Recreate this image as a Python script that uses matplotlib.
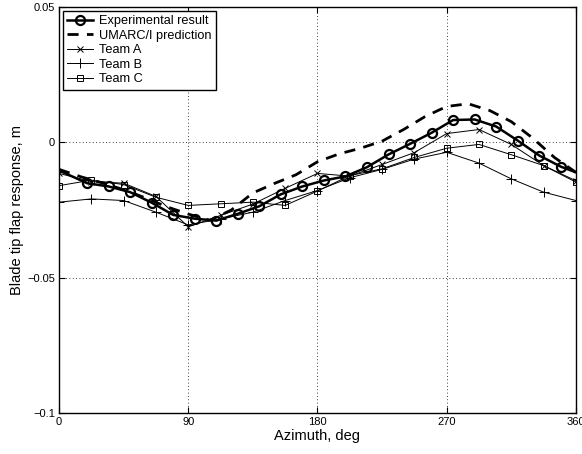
import numpy as np
import matplotlib
matplotlib.use('Agg')
import matplotlib.pyplot as plt

plt.rcParams['font.family'] = ['Liberation Sans', 'DejaVu Sans']

##========================================
# Data
##========================================
exp_azimuth = [0, 19.5, 34.5, 49.5, 64.5, 79.5, 94.5, 109.5, 124.5, 139.5, 154.5,
               169.5, 184.5, 199.5, 214.5, 229.5, 244.5, 259.5, 274.5, 289.5,
               304.5, 319.5, 334.5, 349.5, 360]
exp_flap = [-0.0104, -0.0151, -0.0163, -0.0184, -0.0223, -0.0268, -0.0282, -0.0289,
            -0.0264, -0.0236, -0.0192, -0.0163, -0.0141, -0.0126, -0.0092, -0.0045,
            -0.0006, 0.0035, 0.0082, 0.0084, 0.0058, 0.0006, -0.0049, -0.0090, -0.0111]

umarc_azimuth = [0, 15, 30, 45, 60, 75, 90, 105, 120, 135, 150, 165, 180, 195, 210,
                 225, 240, 255, 270, 285, 300, 315, 330, 345, 360]
umarc_flap = [-0.0100, -0.0127, -0.0150, -0.0175, -0.0205, -0.0238, -0.0265, -0.0288,
              -0.0250, -0.0187, -0.0152, -0.0120, -0.0072, -0.0043, -0.0022, 0.0004,
              0.0047, 0.0095, 0.0132, 0.0142, 0.0117, 0.0076, 0.0015, -0.0056, -0.0111]

team_azimuth = [0, 22.5, 45, 67.5, 90, 112.5, 135, 157.5, 180, 202.5, 225, 247.5,
                270, 292.5, 315, 337.5, 360]
team_a = [-0.0115, -0.0145, -0.0151, -0.0200, -0.0312, -0.0270, -0.0228, -0.0170,
          -0.0115, -0.0125, -0.0082, -0.0038, 0.0032, 0.0047, -0.0008, -0.0086, -0.0142]
team_b = [-0.0221, -0.0209, -0.0215, -0.0258, -0.0305, -0.0283, -0.0258, -0.0215,
          -0.0178, -0.0131, -0.0100, -0.0062, -0.0037, -0.0077, -0.0135, -0.0184, -0.0215]
team_c = [-0.0160, -0.0140, -0.0156, -0.0203, -0.0233, -0.0227, -0.0221, -0.0233,
          -0.0180, -0.0123, -0.0098, -0.0056, -0.0022, -0.0008, -0.0046, -0.0086, -0.0147]

xticks = [0, 90, 180, 270, 360]
yticks = [-0.1, -0.05, 0, 0.05]

##========================================
# Plot
##========================================
fig = plt.figure(figsize=(5.82, 4.54), dpi=100)
ax = fig.add_axes([0.1015, 0.0896, 0.888, 0.8956])

ax.plot(exp_azimuth, exp_flap, '-o', color='k', lw=1.8, ms=6.5, mew=1.6,
        fillstyle='none', markevery=list(range(1, len(exp_azimuth) - 1)),
        label='Experimental result', zorder=5)
ax.plot(umarc_azimuth, umarc_flap, '--', color='k', lw=2.0, dashes=(4, 3),
        label='UMARC/I prediction', zorder=4)
ax.plot(team_azimuth, team_a, '-x', color='k', lw=0.7, ms=4.5, mew=0.7,
        label='Team A')
ax.plot(team_azimuth, team_b, '-+', color='k', lw=0.7, ms=7, mew=0.7,
        label='Team B')
ax.plot(team_azimuth, team_c, '-s', color='k', lw=0.7, ms=4.5, mew=0.7,
        fillstyle='none', label='Team C')

ax.set_xlim(0, 360)
ax.set_ylim(-0.1, 0.05)
ax.set_xticks(xticks)
ax.set_yticks(yticks)
ax.set_yticklabels(['\u22120.1', '\u22120.05', '0', '0.05'])
ax.tick_params(direction='in', top=True, right=True, labelsize=8, length=4, pad=3)
ax.grid(True, linestyle=(0, (1, 3)), color='k', lw=0.6)
for s in ax.spines.values():
    s.set_linewidth(1.0)

ax.set_xlabel('Azimuth, deg', fontsize=10.5, labelpad=1)
ax.set_ylabel('Blade tip flap response, m', fontsize=10.5, labelpad=2)

leg = ax.legend(loc='upper left', fontsize=9.2, handlelength=2.0, handletextpad=0.5,
                borderpad=0.35, labelspacing=0.2, fancybox=False, framealpha=1,
                edgecolor='k', borderaxespad=0.3)
leg.get_frame().set_linewidth(1.0)

plt.savefig('out.png', dpi=100)
